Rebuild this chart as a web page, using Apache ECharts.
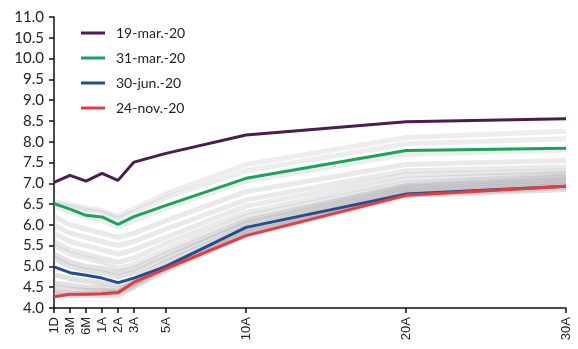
<!DOCTYPE html>
<html><head><meta charset="utf-8">
<script src="https://cdn.jsdelivr.net/npm/echarts@6/dist/echarts.min.js"></script>
<style>html,body{margin:0;padding:0;background:#fff}#c{width:578px;height:349px}</style>
</head><body><div id="c"></div>
<script>
// Tenors and their coordinate on the (compressed) maturity axis
const tenorLabels = ['1D','3M','6M','1A','2A','3A','5A','10A','20A','30A'];
const tenorPos = [0, 1, 2, 3, 4, 5, 7, 12, 22, 32];

// Highlighted curves
const mar19 = [7.02, 7.19, 7.05, 7.24, 7.07, 7.51, 7.72, 8.16, 8.48, 8.55];
const mar31 = [6.51, 6.38, 6.23, 6.19, 6.01, 6.2, 6.47, 7.12, 7.79, 7.84];
const jun30 = [4.99, 4.85, 4.79, 4.72, 4.61, 4.72, 5.0, 5.94, 6.74, 6.93];
const nov24 = [4.27, 4.33, 4.33, 4.34, 4.37, 4.62, 4.95, 5.74, 6.71, 6.93];

// Background history of curves (grey)
const hist1  = [6.55, 6.5, 6.4, 6.35, 6.2, 6.4, 6.75, 7.45, 8.1, 8.25];
const hist2  = [6.5, 6.45, 6.35, 6.3, 6.15, 6.3, 6.65, 7.3, 7.95, 8.07];
const hist3  = [6.45, 6.3, 6.2, 6.1, 5.95, 6.1, 6.4, 7.05, 7.7, 7.8];
const hist4  = [6.2, 6.0, 5.9, 5.8, 5.7, 5.8, 6.1, 6.8, 7.45, 7.55];
const hist5  = [6.0, 5.8, 5.7, 5.6, 5.5, 5.6, 5.9, 6.6, 7.3, 7.4];
const hist6  = [5.8, 5.6, 5.5, 5.4, 5.3, 5.4, 5.7, 6.45, 7.2, 7.3];
const hist7  = [5.6, 5.4, 5.3, 5.2, 5.1, 5.2, 5.55, 6.3, 7.1, 7.25];
const hist8  = [5.5, 5.3, 5.2, 5.1, 4.95, 5.05, 5.4, 6.2, 7.0, 7.2];
const hist9  = [5.3, 5.1, 5.0, 4.95, 4.85, 4.95, 5.3, 6.1, 6.95, 7.15];
const hist10 = [5.2, 5.0, 4.9, 4.85, 4.75, 4.85, 5.2, 6.05, 6.9, 7.1];
const hist11 = [4.8, 4.7, 4.65, 4.6, 4.55, 4.7, 5.1, 5.95, 6.85, 7.05];
const hist12 = [4.6, 4.55, 4.5, 4.5, 4.45, 4.6, 5.0, 5.9, 6.8, 7.0];
const hist13 = [4.5, 4.45, 4.42, 4.42, 4.4, 4.6, 4.98, 5.85, 6.75, 6.95];
const hist14 = [4.4, 4.35, 4.35, 4.37, 4.37, 4.55, 4.95, 5.8, 6.72, 6.9];
const hist15 = [4.35, 4.3, 4.3, 4.3, 4.3, 4.5, 4.9, 5.75, 6.7, 6.85];
const histCurves = [hist1,hist2,hist3,hist4,hist5,hist6,hist7,hist8,hist9,hist10,hist11,hist12,hist13,hist14,hist15];

const pts = arr => arr.map((v,i)=>[tenorPos[i], v]);
const labelOf = v => { const i = tenorPos.indexOf(v); return i>=0 ? tenorLabels[i] : ''; };

const series = [];
histCurves.forEach((c,k)=>{
  const a = k < 3 ? 0.16 : (k < 8 ? 0.2 : 0.27);
  series.push({type:'line', name:'h'+k, data:pts(c), symbol:'none', silent:true,
    lineStyle:{color:'rgba(145,145,150,'+a+')', width:5}, z:1});
});
const main = [
  ['19-mar.-20', mar19, '#4b1c4f'],
  ['31-mar.-20', mar31, '#1ba35e'],
  ['30-jun.-20', jun30, '#234d8c'],
  ['24-nov.-20', nov24, '#e63b43'],
];
main.forEach(([n,d,c])=>{
  series.push({type:'line', name:n, data:pts(d), symbol:'none', color:c,
    lineStyle:{color:c, width:3}, z:5});
});

const chart = echarts.init(document.getElementById('c'), null, {renderer:'canvas'});
chart.setOption({
  animation:false,
  backgroundColor:'#fff',
  grid:{left:54, right:12, top:17, bottom:41},
  legend:{
    data: main.map(m=>m[0]),
    orient:'vertical', left:76, top:21, itemWidth:24, itemHeight:3, itemGap:11,
    icon:'rect',
    textStyle:{fontFamily:'Lato, "Noto Sans", sans-serif', fontSize:14, color:'#222', padding:[0,0,0,6]}
  },
  xAxis:{
    type:'value', min:0, max:32,
    splitLine:{show:false},
    axisLine:{lineStyle:{color:'#111', width:1.5}},
    axisTick:{show:true, length:5, lineStyle:{color:'#111', width:1.5}, customValues: tenorPos},
    axisLabel:{customValues: tenorPos, formatter: labelOf, rotate:90, margin:9,
      fontFamily:'"Liberation Sans", Arial, sans-serif', fontSize:13, color:'#222'}
  },
  yAxis:{
    type:'value', min:4, max:11, interval:0.5,
    splitLine:{show:false},
    axisLine:{show:true, lineStyle:{color:'#111', width:1.5}},
    axisTick:{show:true, length:5, lineStyle:{color:'#111', width:1.5}},
    axisLabel:{formatter: v=>v.toFixed(1), margin:10,
      fontFamily:'Lato, "Noto Sans", sans-serif', fontSize:15, color:'#222'}
  },
  series
});
</script></body></html>
